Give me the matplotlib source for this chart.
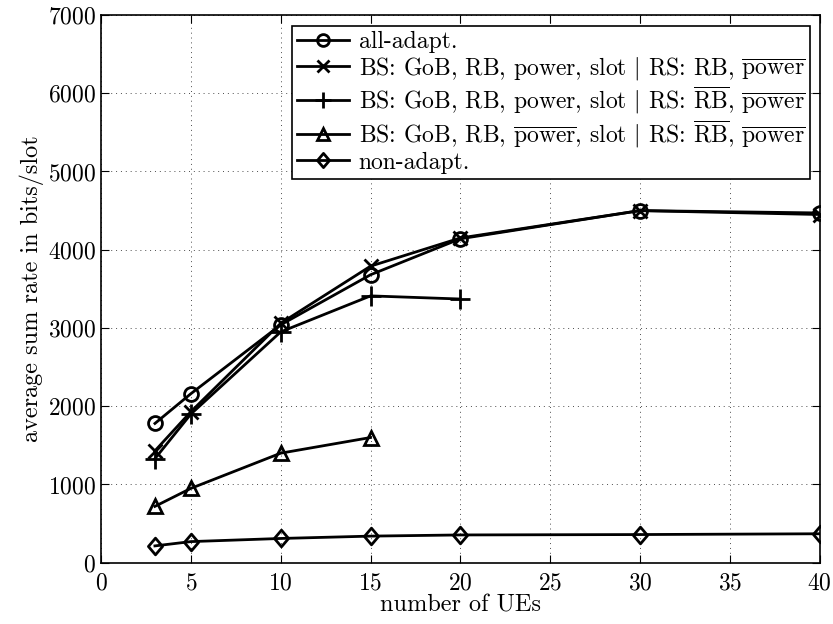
import matplotlib
matplotlib.use("Agg")
import matplotlib.pyplot as plt
from matplotlib.path import Path

plt.rcParams['font.family'] = 'serif'
plt.rcParams['font.serif'] = ['cmr10']
plt.rcParams['mathtext.fontset'] = 'cm'
plt.rcParams['axes.unicode_minus'] = False
plt.rcParams['axes.formatter.use_mathtext'] = True

# data
ues_all = [3, 5, 10, 15, 20, 30, 40]
all_adapt = [1780, 2160, 3040, 3680, 4140, 4500, 4470]
bs_rs_rb = [1430, 1930, 3060, 3790, 4150, 4500, 4450]

ues_fixed_rb = [3, 5, 10, 15, 20]
bs_fixed_rb = [1330, 1900, 2950, 3410, 3370]

ues_fixed_pow = [3, 5, 10, 15]
bs_fixed_pow = [720, 950, 1400, 1600]

non_adapt = [215, 270, 310, 340, 355, 360, 370]

labels = [
    'all-adapt.',
    r'BS: GoB, RB, power, slot $|$ RS: RB, $\overline{\mathrm{power}}$',
    r'BS: GoB, RB, power, slot $|$ RS: $\overline{\mathrm{RB}}$, $\overline{\mathrm{power}}$',
    r'BS: GoB, RB, $\overline{\mathrm{power}}$, slot $|$ RS: $\overline{\mathrm{RB}}$, $\overline{\mathrm{power}}$',
    'non-adapt.',
]

# slightly tall diamond, like the reference
diamond = Path([(0, 1), (0.85, 0), (0, -1), (-0.85, 0), (0, 1)],
               [Path.MOVETO, Path.LINETO, Path.LINETO, Path.LINETO, Path.CLOSEPOLY])

fig = plt.figure(figsize=(8.33, 6.24), dpi=100)
ax = fig.add_axes([0.1213, 0.0982, 0.8627, 0.8778])

style = dict(color='black', lw=2, markersize=10, markerfacecolor='none', markeredgewidth=2)
ax.plot(ues_all, all_adapt, marker='o', label=labels[0], **style)
ax.plot(ues_all, bs_rs_rb, marker='x', label=labels[1], **style)
ax.plot(ues_fixed_rb, bs_fixed_rb, marker='+', label=labels[2], **{**style, 'markersize': 14})
ax.plot(ues_fixed_pow, bs_fixed_pow, marker='^', label=labels[3], **style)
ax.plot(ues_all, non_adapt, marker=diamond, label=labels[4], **{**style, 'markersize': 12})

ax.set_xlim(0, 40)
ax.set_ylim(0, 7000)
ax.set_xticks(range(0, 41, 5))
ax.set_yticks(range(0, 7001, 1000))
ax.tick_params(direction='in', top=True, right=True, labelsize=17, length=6, width=0.8)
ax.tick_params(axis='x', pad=7)
ax.grid(True, linestyle=(0, (1, 4)), color='black', lw=0.7, alpha=0.7)
for s in ax.spines.values():
    s.set_linewidth(1.2)

ax.set_xlabel('number of UEs', fontsize=17.5, labelpad=0)
ax.set_ylabel('average sum rate in bits/slot', fontsize=17.5, labelpad=3)

leg = ax.legend(loc='upper left', bbox_to_anchor=(0.266, 0.98), fontsize=17,
                fancybox=False, edgecolor='black', framealpha=1, handlelength=2.2,
                labelspacing=0.08, borderpad=0.22, handletextpad=0.4, borderaxespad=0,
                markerscale=0.85)
leg.get_frame().set_linewidth(1.2)

fig.savefig('out.png', dpi=100)
